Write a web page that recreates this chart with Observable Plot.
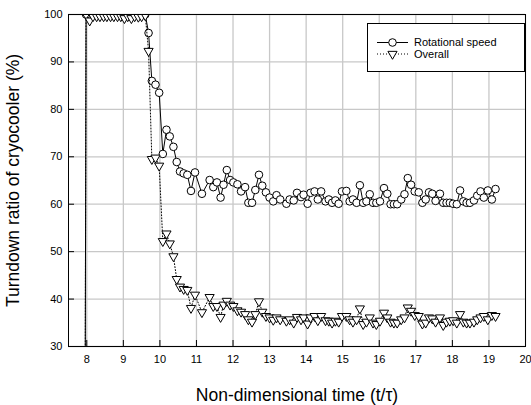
<!DOCTYPE html>
<html><head><meta charset="utf-8">
<script src="https://cdn.jsdelivr.net/npm/d3@7"></script>
<script src="https://cdn.jsdelivr.net/npm/@observablehq/plot@0.6"></script>
<style>
body{margin:0;background:#fff;}
#wrap{position:relative;width:531px;height:405px;}
#legend{position:absolute;left:367px;top:23px;width:156px;height:47px;border:1px solid #000;background:#fff;}
#legend svg{display:block;font-family:"Liberation Sans",Arial,sans-serif;font-size:11px;}
</style></head><body><div id="wrap"></div>
<script>
const time = [7.95,
  7.98, 8.08, 8.17, 8.27, 8.36, 8.46, 8.55, 8.65, 8.74, 8.84, 8.93, 9.03, 9.12, 9.22, 9.31, 9.41, 9.50, 9.60,
  9.69, 9.78, 9.88, 9.98,
  10.08, 10.18, 10.27, 10.37, 10.46, 10.55, 10.65, 10.75, 10.85, 10.96,
  11.15, 11.36, 11.46, 11.56, 11.66, 11.74, 11.83, 11.92,
  12.01, 12.12, 12.22, 12.33, 12.42, 12.52, 12.61, 12.71, 12.80, 12.90,
  13.00, 13.10, 13.19, 13.29, 13.46, 13.55, 13.66, 13.75, 13.86, 13.93,
  14.04, 14.12, 14.23, 14.32, 14.41, 14.53, 14.62, 14.71, 14.80, 14.89, 14.98,
  15.10, 15.19, 15.28, 15.38, 15.47, 15.56, 15.65, 15.74, 15.83, 15.92,
  16.02, 16.13, 16.22, 16.31, 16.40, 16.49, 16.60, 16.69, 16.78, 16.87, 16.97,
  17.08, 17.18, 17.27, 17.36, 17.45, 17.54, 17.66, 17.75, 17.84, 17.93,
  18.02, 18.12, 18.21, 18.30, 18.39, 18.48, 18.59, 18.68, 18.77, 18.86, 18.97,
  19.08, 19.18];
const rotationalSpeed = [0,
  100, 100, 100, 100, 100, 100, 100, 100, 100, 100, 100, 100, 100, 100, 100, 100, 100, 100,
  96.1, 86.0, 85.2, 83.5,
  70.6, 75.7, 74.3, 72.1, 68.9, 66.9, 66.5, 66.2, 62.8, 66.7,
  62.2, 65.1, 63.6, 64.6, 61.4, 64.1, 67.2, 65.1,
  64.6, 64.2, 62.7, 63.6, 60.3, 60.3, 63.0, 66.2, 63.9, 62.5,
  61.4, 60.6, 61.9, 61.0, 60.1, 61.0, 60.8, 62.4, 61.5, 62.0,
  60.1, 62.4, 62.7, 61.0, 62.7, 60.6, 61.0, 60.3, 60.8, 60.1, 62.7,
  62.8, 60.6, 61.0, 60.3, 64.0, 60.3, 60.6, 62.1, 60.3, 60.3,
  60.6, 63.4, 62.2, 60.0, 60.0, 60.0, 61.0, 62.1, 65.5, 64.1, 62.7,
  62.5, 60.3, 61.0, 62.5, 62.2, 60.7, 62.2, 60.3, 60.3, 60.3,
  60.1, 60.0, 62.9, 60.6, 60.3, 60.3, 60.8, 61.8, 62.7, 61.4, 62.9,
  61.0, 63.2];
const overall = [0,
  100, 98.7, 99.6, 99.6, 99.6, 99.6, 99.6, 99.6, 99.6, 99.6, 99.6, 99.2, 99.6, 99.2, 99.6, 99.5, 99.6, 99.8,
  92.3, 69.5, 69.8, 68.1,
  52.2, 53.8, 51.7, 49.0, 44.2, 42.6, 42.1, 41.9, 38.1, 40.9,
  37.2, 40.4, 38.5, 38.5, 36.2, 38.8, 39.6, 38.8,
  38.5, 37.6, 37.3, 36.8, 35.7, 35.2, 36.8, 39.5, 37.3, 36.4,
  36.1, 35.6, 36.1, 35.7, 35.4, 35.7, 35.0, 36.2, 35.7, 36.1,
  34.8, 36.1, 36.4, 35.5, 36.4, 35.5, 35.4, 35.0, 35.4, 35.2, 36.4,
  36.4, 35.7, 35.2, 35.7, 38.0, 34.7, 35.2, 36.1, 35.0, 34.7,
  35.4, 37.1, 36.1, 35.2, 35.0, 35.0, 35.7, 36.1, 38.2, 37.5, 36.6,
  36.4, 34.8, 35.0, 36.1, 35.9, 35.2, 36.1, 34.5, 35.2, 35.4,
  35.5, 35.0, 36.8, 35.2, 35.0, 35.0, 35.2, 35.7, 36.1, 36.4, 35.7,
  36.6, 36.4];
const xTicks = [8, 9, 10, 11, 12, 13, 14, 15, 16, 17, 18, 19, 20];
const yTicks = [30, 40, 50, 60, 70, 80, 90, 100];
const seriesNames = ["Rotational speed", "Overall"];
const xTitle = "Non-dimensional time (t/\u03c4)";
const yTitle = "Turndown ratio of cryocooler (%)";

const data = time.map((t, i) => ({t, rot: rotationalSpeed[i], ov: overall[i]}));
const font = "'Liberation Sans', Arial, sans-serif";

const chart = Plot.plot({
  width: 531, height: 405,
  marginLeft: 68, marginRight: 6, marginTop: 14, marginBottom: 59,
  x: {domain: [7.5, 20]},
  y: {domain: [30, 100]},
  style: {fontFamily: font, fontSize: "11px", background: "white", color: "black"},
  marks: [
    Plot.ruleX(xTicks, {stroke: "#c8c8c8", strokeWidth: 1.3}),
    Plot.ruleY(yTicks, {stroke: "#c8c8c8", strokeWidth: 1.3}),
    Plot.line(data, {x: "t", y: "rot", stroke: "black", strokeWidth: 1, clip: true}),
    Plot.dot(data, {x: "t", y: "rot", r: 3.8, fill: "white", stroke: "black", strokeWidth: 1, clip: true}),
    Plot.line(data, {x: "t", y: "ov", stroke: "black", strokeWidth: 1, strokeDasharray: "1,2", clip: true}),
    Plot.dot(data, {x: "t", y: "ov", symbol: "triangle", rotate: 180, r: 3.4, fill: "white", stroke: "black", strokeWidth: 1, clip: true}),
    Plot.ruleX(xTicks, {insetTop: 326, stroke: "black"}),
    Plot.ruleY(yTicks, {insetRight: 451, stroke: "black"}),
    Plot.frame({stroke: "black"}),
    Plot.axisX({ticks: xTicks, tickSize: 0, tickPadding: 9, label: null, fontSize: 11}),
    Plot.axisY({ticks: yTicks, tickSize: 0, tickPadding: 6, label: null, fontSize: 11}),
    Plot.text([xTitle], {text: d => d, frameAnchor: "bottom", dy: 54, lineAnchor: "bottom", textAnchor: "middle", fontSize: 17.5}),
    Plot.text([yTitle], {text: d => d, frameAnchor: "left", dx: -50, rotate: -90, lineAnchor: "bottom", textAnchor: "middle", fontSize: 17.5})
  ]
});
const wrap = document.getElementById("wrap");
wrap.appendChild(chart);

// legend
const leg = document.createElement("div");
leg.id = "legend";
leg.innerHTML = `<svg width="156" height="47">
  <line x1="9" x2="40" y1="18.5" y2="18.5" stroke="black"/>
  <circle cx="24.5" cy="18.5" r="3.8" fill="white" stroke="black"/>
  <text x="46" y="18.5" dy="0.35em">${seriesNames[0]}</text>
  <line x1="9" x2="40" y1="30" y2="30" stroke="black" stroke-dasharray="1,2"/>
  <path transform="translate(24.5,30) rotate(180)" d="${d3.symbol(d3.symbolTriangle, Math.PI*3.4*3.4)()}" fill="white" stroke="black"/>
  <text x="46" y="30" dy="0.35em">${seriesNames[1]}</text>
</svg>`;
wrap.appendChild(leg);
</script>
</body></html>
